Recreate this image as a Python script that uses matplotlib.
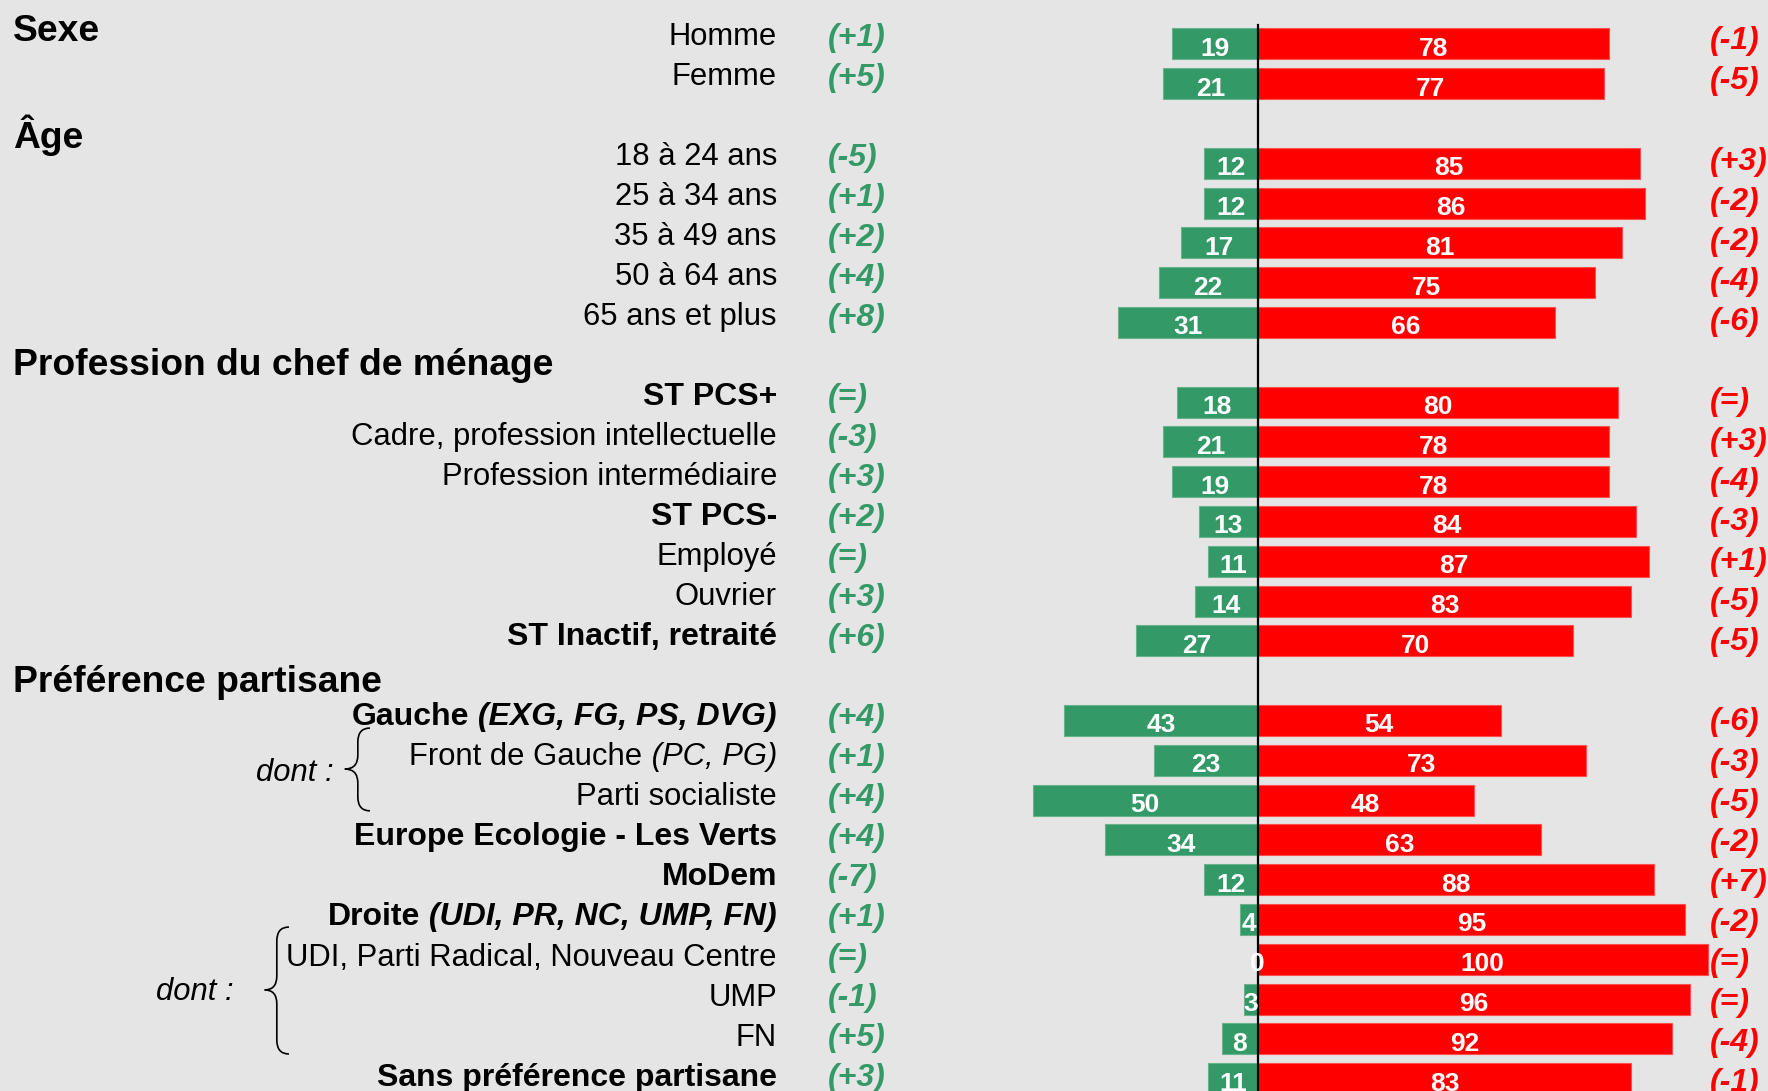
import matplotlib
matplotlib.use('Agg')
import matplotlib.pyplot as plt
from matplotlib.path import Path
from matplotlib.patches import PathPatch

plt.rcParams['font.family'] = ['Liberation Sans', 'DejaVu Sans']

# sections: title and how many rows follow it
sections = ['Sexe', 'Âge', 'Profession du chef de ménage', 'Préférence partisane']
section_sizes = [2, 5, 7, 10]

categories = ['Homme', 'Femme',
              '18 à 24 ans', '25 à 34 ans', '35 à 49 ans', '50 à 64 ans', '65 ans et plus',
              'ST PCS+', 'Cadre, profession intellectuelle', 'Profession intermédiaire',
              'ST PCS-', 'Employé', 'Ouvrier', 'ST Inactif, retraité',
              'Gauche', 'Front de Gauche', 'Parti socialiste', 'Europe Ecologie - Les Verts',
              'MoDem', 'Droite', 'UDI, Parti Radical, Nouveau Centre', 'UMP', 'FN',
              'Sans préférence partisane']
# italic suffix written after some labels
suffixes = {'Gauche': ' (EXG, FG, PS, DVG)', 'Front de Gauche': ' (PC, PG)',
            'Droite': ' (UDI, PR, NC, UMP, FN)'}
bold_rows = ['ST PCS+', 'ST PCS-', 'ST Inactif, retraité', 'Gauche',
             'Europe Ecologie - Les Verts', 'MoDem', 'Droite', 'Sans préférence partisane']

green_vals = [19, 21, 12, 12, 17, 22, 31, 18, 21, 19, 13, 11, 14, 27,
              43, 23, 50, 34, 12, 4, 0, 3, 8, 11]
red_vals = [78, 77, 85, 86, 81, 75, 66, 80, 78, 78, 84, 87, 83, 70,
            54, 73, 48, 63, 88, 95, 100, 96, 92, 83]
green_chg = ['+1', '+5', '-5', '+1', '+2', '+4', '+8', '=', '-3', '+3', '+2', '=', '+3', '+6',
             '+4', '+1', '+4', '+4', '-7', '+1', '=', '-1', '+5', '+3']
red_chg = ['-1', '-5', '+3', '-2', '-2', '-4', '-6', '=', '+3', '-4', '-3', '+1', '-5', '-5',
           '-6', '-3', '-5', '-2', '+7', '-2', '=', '=', '-4', '-1']

GREEN = '#339966'
RED = '#FF0000'
BG = '#E5E5E5'

# row positions, one empty row before each section except the first
pos = []
r = 0
for i, n in enumerate(section_sizes):
    if i > 0:
        r += 1
    for k in range(n):
        pos.append(r)
        r += 1

fig = plt.figure(figsize=(17.68, 10.91), dpi=100)
fig.patch.set_facecolor(BG)
ax = fig.add_axes([0, 0, 1, 1])
ax.set_facecolor(BG)
ax.axis('off')
ax.set_xlim(-279.4, 113.4)
ax.set_ylim(26.31, -1.105)

ax.barh(pos, [-v for v in green_vals], height=0.78, color=GREEN, edgecolor='#66b38c', linewidth=0.8)
ax.barh(pos, red_vals, height=0.78, color=RED, edgecolor='#ff5050', linewidth=0.8)
ax.plot([0, 0], [-0.48, 26.5], color='black', lw=1.6, zorder=5)

label_x = -106.8
for y, cat, g, rd, gc, rc in zip(pos, categories, green_vals, red_vals, green_chg, red_chg):
    ty = y * 1.0055 + 0.03   # the text table on the left is slightly taller
    ry = y * 1.0068 + 0.135
    ax.text(-g / 2, y + 0.3, str(g), color='white', fontsize=19, fontweight='bold',
            ha='center', va='baseline', zorder=6)
    ax.text(rd / 2, y + 0.3, str(rd), color='white', fontsize=19, fontweight='bold',
            ha='center', va='baseline', zorder=6)
    ax.text(-95.4, ty + 0.02, f'({gc})', color=GREEN, fontsize=23, fontweight='bold',
            fontstyle='italic', ha='left', va='baseline')
    ax.text(100.5, ry, f'({rc})', color=RED, fontsize=23, fontweight='bold',
            fontstyle='italic', ha='left', va='baseline')
    bold = cat in bold_rows
    weight = 'bold' if bold else 'normal'
    fs = 23 if bold else 22.3
    if cat in suffixes:
        t = ax.text(label_x, ty, suffixes[cat], fontsize=fs, fontweight=weight,
                    fontstyle='italic', ha='right', va='baseline')
        ax.annotate(cat, xy=(0, ty), xycoords=(t, 'data'), fontsize=fs,
                    fontweight=weight, ha='right', va='baseline')
    else:
        ax.text(label_x, ty, cat, fontsize=fs, fontweight=weight,
                ha='right', va='baseline')

# section titles
title_rows = [-0.083, 2.605, 8.33, 16.28]
for title, ty in zip(sections, title_rows):
    ax.text(-276.5, ty, title, fontsize=26.8, fontweight='bold', ha='left', va='baseline')


def brace(x_end, x_spine, x_tip, y_top, y_tip, y_bot):
    dy = 0.35
    verts = [(x_end, y_top),
             (x_spine, y_top), (x_spine, y_top + dy),
             (x_spine, y_tip - dy),
             (x_spine, y_tip), (x_tip, y_tip),
             (x_spine, y_tip), (x_spine, y_tip + dy),
             (x_spine, y_bot - dy),
             (x_spine, y_bot), (x_end, y_bot)]
    codes = [Path.MOVETO, Path.CURVE3, Path.CURVE3, Path.LINETO,
             Path.CURVE3, Path.CURVE3, Path.CURVE3, Path.CURVE3,
             Path.LINETO, Path.CURVE3, Path.CURVE3]
    ax.add_patch(PathPatch(Path(verts, codes), fill=False, lw=1.2, color='black'))


brace(-197.2, -199.9, -202.8, 17.19, 18.22, 19.27)
ax.text(-205.2, 18.53, 'dont :', fontsize=22.3, fontstyle='italic', ha='right', va='baseline')
brace(-215.2, -217.9, -220.6, 22.19, 23.77, 25.38)
ax.text(-227.4, 24.02, 'dont :', fontsize=22.3, fontstyle='italic', ha='right', va='baseline')

fig.savefig('out.png', dpi=100, facecolor=BG)
